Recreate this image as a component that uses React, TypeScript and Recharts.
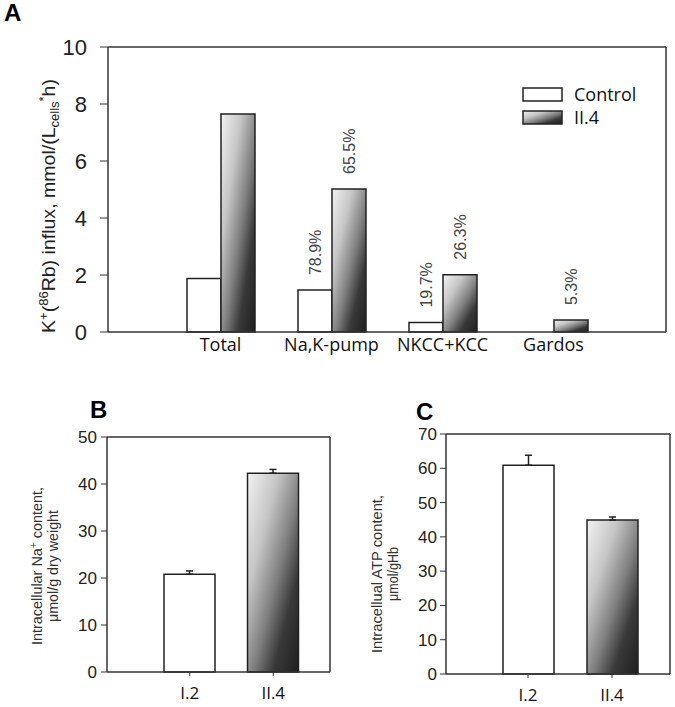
import React from 'react';
import { BarChart, Bar, XAxis, YAxis, ErrorBar, LabelList, Legend, Cell, CartesianGrid } from 'recharts';

// Panel A data
const fluxCategories = ['Total', 'Na,K-pump', 'NKCC+KCC', 'Gardos'];
const fluxControl = [1.88, 1.47, 0.33, 0];
const fluxII4 = [7.65, 5.02, 2.01, 0.42];
const pctControl = ['', '78.9%', '19.7%', ''];
const pctII4 = ['', '65.5%', '26.3%', '5.3%'];
const fluxTicks = [0, 2, 4, 6, 8, 10];
const seriesNames = ['Control', 'II.4'];

// Panel B data
const subjects = ['I.2', 'II.4'];
const naContent = [20.8, 42.3];
const naErr = [0.7, 0.8];
const naTicks = [0, 10, 20, 30, 40, 50];

// Panel C data
const atpContent = [60.9, 44.9];
const atpErr = [2.9, 0.9];
const atpTicks = [0, 10, 20, 30, 40, 50, 60, 70];

const fluxData = fluxCategories.map((c, i) => ({
  cat: c,
  control: fluxControl[i],
  ii4: fluxII4[i],
  pc: pctControl[i],
  pi: pctII4[i],
}));
const naData = subjects.map((s, i) => ({ subj: s, value: naContent[i], err: [0, naErr[i]] }));
const atpData = subjects.map((s, i) => ({ subj: s, value: atpContent[i], err: [0, atpErr[i]] }));

const ARIAL = 'Liberation Sans, Arial, sans-serif';
const HUMAN = 'Open Sans, DejaVu Sans, sans-serif';
const INK = '#222';

const gradientDefs = (id: string) => (
  <defs>
    <linearGradient id={id} x1="0" y1="0" x2="1" y2="1">
      <stop offset="0" stopColor="#f2f2f2" />
      <stop offset="0.3" stopColor="#c6c6c6" />
      <stop offset="0.55" stopColor="#808080" />
      <stop offset="0.75" stopColor="#393939" />
      <stop offset="1" stopColor="#1f1f1f" />
    </linearGradient>
  </defs>
);

const frameTop = (p: any) => [p && p.offset ? p.offset.top : 0];
const frameRight = (p: any) => [p && p.offset ? p.offset.left + p.offset.width : 0];

const PctLabel = (props: any) => {
  const { x, y, width, value } = props;
  if (!value) return null;
  const cx = Number(x) + Number(width) / 2 + 6;
  const ty = Number(y) - 15;
  return (
    <text x={cx} y={ty} transform={`rotate(-90 ${cx} ${ty})`} textAnchor="start" fontSize={16} fill="#444" fontFamily={ARIAL}>
      {value}
    </text>
  );
};

const LegendContent = (props: any) => {
  const payload = props.payload || [];
  return (
    <svg width={150} height={48} style={{ display: 'block', overflow: 'visible' }}>
      {gradientDefs('gradL')}
      {payload.map((p: any, i: number) => (
        <g key={i}>
          <rect x={2} y={3 + i * 23} width={39} height={13} fill={i === 0 ? '#fff' : 'url(#gradL)'} stroke={INK} strokeWidth={1.5} />
          <text x={53} y={16 + i * 23} fontSize={18} fontFamily={HUMAN} fill="#111">{p.value}</text>
        </g>
      ))}
    </svg>
  );
};

const LabelA = () => (
  <g>
    <text x={4} y={21} fontSize={24} fontWeight="bold" fontFamily={ARIAL} fill="#000">A</text>
    <text x={55} y={206} transform="rotate(-90 55 206)" textAnchor="middle" fontSize={18} fontFamily={ARIAL} fill="#222" textLength={254} lengthAdjust="spacingAndGlyphs">
      <tspan>K</tspan>
      <tspan dy={-7} fontSize={12}>+</tspan>
      <tspan dy={7}>(</tspan>
      <tspan dy={-7} fontSize={12}>86</tspan>
      <tspan dy={7}>Rb)  influx, mmol/(L</tspan>
      <tspan dy={4} fontSize={12}>cells</tspan>
      <tspan dy={-11} fontSize={12}>*</tspan>
      <tspan dy={7}>h)</tspan>
    </text>
  </g>
);

const LabelB = () => (
  <g>
    <text x={90} y={58} fontSize={24} fontWeight="bold" fontFamily={ARIAL} fill="#000">B</text>
    <text x={42} y={206} transform="rotate(-90 42 206)" textAnchor="middle" fontSize={14} fontFamily={ARIAL} fill="#333" textLength={158} lengthAdjust="spacingAndGlyphs">
      <tspan>Intracellular Na</tspan>
      <tspan dy={-5} fontSize={10}>+</tspan>
      <tspan dy={5}> content,</tspan>
    </text>
    <text x={58} y={206} transform="rotate(-90 58 206)" textAnchor="middle" fontSize={14} fontFamily={ARIAL} fill="#333" textLength={112} lengthAdjust="spacingAndGlyphs">
      μmol/g dry weight
    </text>
  </g>
);

const LabelC = () => (
  <g>
    <text x={76} y={60} fontSize={24} fontWeight="bold" fontFamily={ARIAL} fill="#000">C</text>
    <text x={42} y={214} transform="rotate(-90 42 214)" textAnchor="middle" fontSize={14} fontFamily={ARIAL} fill="#333" textLength={158} lengthAdjust="spacingAndGlyphs">
      Intracellual ATP content,
    </text>
    <text x={58} y={214} transform="rotate(-90 58 214)" textAnchor="middle" fontSize={14} fontFamily={ARIAL} fill="#333" textLength={54} lengthAdjust="spacingAndGlyphs">
      μmol/gHb
    </text>
  </g>
);

const axisLine = { stroke: '#333', strokeWidth: 1.5 };

export default function App() {
  return (
    <div style={{ position: 'absolute', left: 0, top: 0, width: 675, height: 707, background: '#fff', fontFamily: ARIAL }}>
      {/* Panel A */}
      <div style={{ position: 'absolute', left: 0, top: 0 }}>
        <BarChart width={675} height={360} data={fluxData} margin={{ top: 47, right: 9, bottom: 3, left: 48 }} barGap={0}>
          {gradientDefs('gradA')}
          <CartesianGrid stroke="#333" strokeWidth={1.5} horizontalCoordinatesGenerator={frameTop} verticalCoordinatesGenerator={frameRight} />
          <XAxis
            dataKey="cat"
            padding={{ left: 57, right: 57 }}
            height={25}
            tickLine={false}
            tickSize={0}
            tickMargin={6}
            axisLine={axisLine}
            tick={{ fontSize: 18, fontFamily: HUMAN, fill: '#111' }}
          />
          <YAxis
            width={60}
            domain={[0, 10]}
            ticks={fluxTicks}
            tickSize={8}
            tickMargin={13}
            axisLine={axisLine}
            tickLine={{ stroke: '#333' }}
            tick={{ fontSize: 22, fontFamily: ARIAL, fill: INK }}
            label={{ content: () => <LabelA /> }}
          />
          <Legend
            layout="vertical"
            align="center"
            verticalAlign="middle"
            content={<LegendContent />}
            wrapperStyle={{ position: 'absolute', left: 521, top: 85, width: 150, height: 48 }}
          />
          <Bar dataKey="control" name={seriesNames[0]} barSize={34} fill="#fff" stroke={INK} strokeWidth={1.5} isAnimationActive={false}>
            <LabelList dataKey="pc" content={<PctLabel />} />
          </Bar>
          <Bar dataKey="ii4" name={seriesNames[1]} barSize={34} fill="url(#gradA)" stroke={INK} strokeWidth={1.5} isAnimationActive={false}>
            <LabelList dataKey="pi" content={<PctLabel />} />
          </Bar>
        </BarChart>
      </div>

      {/* Panel B */}
      <div style={{ position: 'absolute', left: 0, top: 360 }}>
        <BarChart width={340} height={347} data={naData} margin={{ top: 77, right: 10, bottom: 5, left: 57 }}>
          {gradientDefs('gradB')}
          <CartesianGrid stroke="#333" strokeWidth={1.5} horizontalCoordinatesGenerator={frameTop} verticalCoordinatesGenerator={frameRight} />
          <XAxis
            dataKey="subj"
            padding={{ left: 41, right: 15 }}
            height={30}
            tickSize={4}
            tickMargin={11}
            axisLine={axisLine}
            tickLine={{ stroke: '#333' }}
            tick={{ fontSize: 17, fontFamily: HUMAN, fill: '#111' }}
          />
          <YAxis
            width={50}
            domain={[0, 50]}
            ticks={naTicks}
            tickSize={6}
            tickMargin={4}
            axisLine={axisLine}
            tickLine={{ stroke: '#333' }}
            tick={{ fontSize: 17, fontFamily: ARIAL, fill: INK }}
            label={{ content: () => <LabelB /> }}
          />
          <Bar dataKey="value" barSize={51} stroke={INK} strokeWidth={1.5} isAnimationActive={false}>
            {naData.map((d, i) => (
              <Cell key={d.subj} fill={i === 0 ? '#fff' : 'url(#gradB)'} />
            ))}
            <ErrorBar dataKey="err" direction="y" width={3.5} stroke={INK} strokeWidth={1.5} />
          </Bar>
        </BarChart>
      </div>

      {/* Panel C */}
      <div style={{ position: 'absolute', left: 340, top: 360 }}>
        <BarChart width={335} height={347} data={atpData} margin={{ top: 74, right: 5, bottom: 3, left: 56 }}>
          {gradientDefs('gradC')}
          <CartesianGrid stroke="#333" strokeWidth={1.5} horizontalCoordinatesGenerator={frameTop} verticalCoordinatesGenerator={frameRight} />
          <XAxis
            dataKey="subj"
            padding={{ left: 40, right: 16 }}
            height={30}
            tickSize={4}
            tickMargin={11}
            axisLine={axisLine}
            tickLine={{ stroke: '#333' }}
            tick={{ fontSize: 17, fontFamily: HUMAN, fill: '#111' }}
          />
          <YAxis
            width={50}
            domain={[0, 70]}
            ticks={atpTicks}
            tickSize={6}
            tickMargin={3}
            axisLine={axisLine}
            tickLine={{ stroke: '#333' }}
            tick={{ fontSize: 17, fontFamily: ARIAL, fill: INK }}
            label={{ content: () => <LabelC /> }}
          />
          <Bar dataKey="value" barSize={51} stroke={INK} strokeWidth={1.5} isAnimationActive={false}>
            {atpData.map((d, i) => (
              <Cell key={d.subj} fill={i === 0 ? '#fff' : 'url(#gradC)'} />
            ))}
            <ErrorBar dataKey="err" direction="y" width={3.5} stroke={INK} strokeWidth={1.5} />
          </Bar>
        </BarChart>
      </div>
    </div>
  );
}
